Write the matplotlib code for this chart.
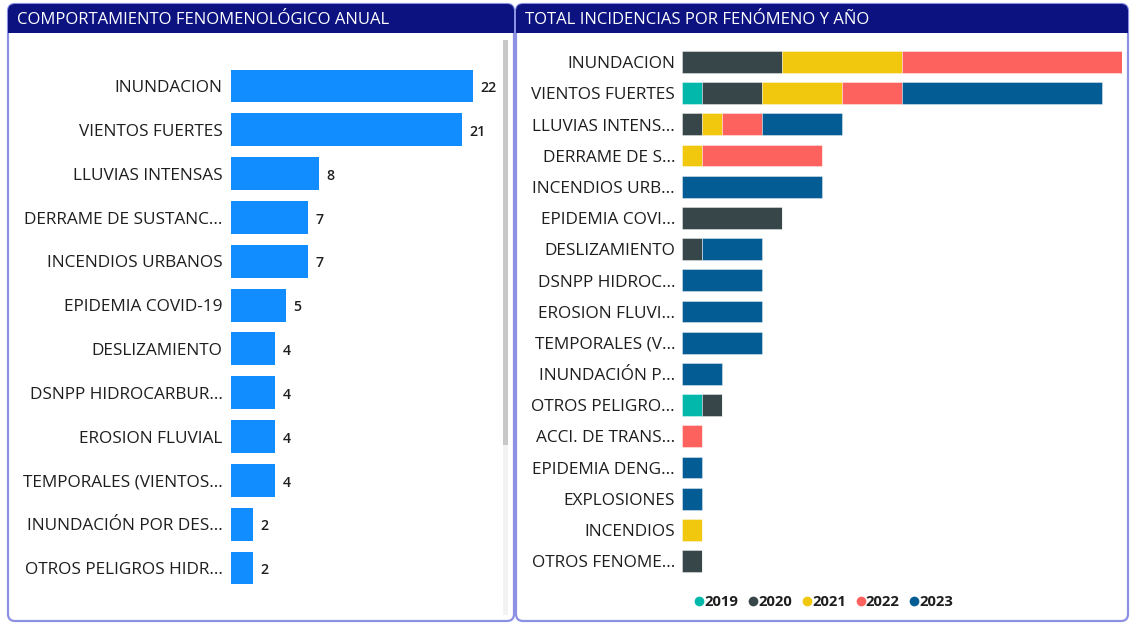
import matplotlib
matplotlib.use("Agg")
import matplotlib.pyplot as plt
from matplotlib.patches import FancyBboxPatch, Rectangle
from matplotlib.lines import Line2D
import numpy as np

plt.rcParams['font.family'] = ['Open Sans', 'DejaVu Sans']

# ---- data -------------------------------------------------------------
left_title = "COMPORTAMIENTO FENOMENOLÓGICO ANUAL"
left_categories = [
    "INUNDACION", "VIENTOS FUERTES", "LLUVIAS INTENSAS", "DERRAME DE SUSTANC...",
    "INCENDIOS URBANOS", "EPIDEMIA COVID-19", "DESLIZAMIENTO", "DSNPP HIDROCARBUR...",
    "EROSION FLUVIAL", "TEMPORALES (VIENTOS...", "INUNDACIÓN POR DES...",
    "OTROS PELIGROS HIDR...",
]
left_values = [22, 21, 8, 7, 7, 5, 4, 4, 4, 4, 2, 2]

right_title = "TOTAL INCIDENCIAS POR FENÓMENO Y AÑO"
right_categories = [
    "INUNDACION", "VIENTOS FUERTES", "LLUVIAS INTENS...", "DERRAME DE S...",
    "INCENDIOS URB...", "EPIDEMIA COVI...", "DESLIZAMIENTO", "DSNPP HIDROC...",
    "EROSION FLUVI...", "TEMPORALES (V...", "INUNDACIÓN P...", "OTROS PELIGRO...",
    "ACCI. DE TRANS...", "EPIDEMIA DENG...", "EXPLOSIONES", "INCENDIOS",
    "OTROS FENOME...",
]
years = ["2019", "2020", "2021", "2022", "2023"]
y2019 = [0, 1, 0, 0, 0, 0, 0, 0, 0, 0, 0, 1, 0, 0, 0, 0, 0]
y2020 = [5, 3, 1, 0, 0, 5, 1, 0, 0, 0, 0, 1, 0, 0, 0, 0, 1]
y2021 = [6, 4, 1, 1, 0, 0, 0, 0, 0, 0, 0, 0, 0, 0, 0, 1, 0]
y2022 = [11, 3, 2, 6, 0, 0, 0, 0, 0, 0, 0, 0, 1, 0, 0, 0, 0]
y2023 = [0, 10, 4, 0, 7, 0, 3, 4, 4, 4, 2, 0, 0, 1, 1, 0, 0]
year_colors = ["#01B8AA", "#374649", "#F2C80F", "#FD625E", "#035C93"]

# ---- styles -----------------------------------------------------------
W, H = 1130, 624
NAVY = "#0C1380"
BORDER = "#8C91E3"
BAR_BLUE = "#118DFF"
TEXT = "#1E1E1E"
LABEL_SIZE = 12.4
TEXT_DY = -1.6  # small downward nudge so capitals sit centred on the bars

fig = plt.figure(figsize=(W / 100, H / 100), dpi=100)
fig.patch.set_facecolor("white")

# background layer in pixel coordinates for the card frames
bg = fig.add_axes([0, 0, 1, 1], zorder=0)
bg.set_xlim(0, W)
bg.set_ylim(H, 0)
bg.axis("off")


def card(x0, y0, x1, y1, title):
    bg.add_patch(FancyBboxPatch((x0, y0), x1 - x0, y1 - y0,
                                boxstyle="round,pad=0,rounding_size=7",
                                fc="white", ec=BORDER, lw=1.6))
    # header band: rounded on top, square at the bottom
    bg.add_patch(FancyBboxPatch((x0, y0), x1 - x0, 26,
                                boxstyle="round,pad=0,rounding_size=7",
                                fc=NAVY, ec="none"))
    bg.add_patch(Rectangle((x0, y0 + 14), x1 - x0, 15, fc=NAVY, ec="none"))
    bg.text(x0 + 9, y0 + 16.5, title, color="white", fontsize=12.0,
            va="center", ha="left")


card(8, 4, 514, 621, left_title)
card(516, 4, 1128, 621, right_title)

# scrollbar of the left card
bg.add_patch(Rectangle((503, 40), 5, 575, fc="#F3F3F3", ec="none"))
bg.add_patch(Rectangle((503, 40), 5, 405, fc="#C8C8C8", ec="none"))


def px_axes(x0, y0, x1, y1):
    ax = fig.add_axes([x0 / W, 1 - y1 / H, (x1 - x0) / W, (y1 - y0) / H], zorder=2)
    ax.patch.set_alpha(0)
    for s in ax.spines.values():
        s.set_visible(False)
    ax.set_xticks([])
    ax.set_yticks([])
    return ax


# ---- left chart -------------------------------------------------------
axL = px_axes(231, 64.1, 231 + 11 * 24, 589.9)
nL = len(left_categories)
posL = np.arange(nL)
axL.barh(posL, left_values, height=0.75, color=BAR_BLUE)
axL.set_xlim(0, 24)
axL.set_ylim(nL - 0.5, -0.5)
for p, lab, v in zip(posL, left_categories, left_values):
    axL.annotate(lab, (0, p), xytext=(-6, TEXT_DY), textcoords="offset points",
                 ha="right", va="center", fontsize=LABEL_SIZE, color=TEXT,
                 annotation_clip=False)
    axL.annotate(str(v), (v, p), xytext=(5.5, TEXT_DY), textcoords="offset points",
                 ha="left", va="center", fontsize=10.2, color=TEXT,
                 fontweight="semibold", annotation_clip=False)

# ---- right chart ------------------------------------------------------
axR = px_axes(682, 46.4, 682 + 20 * 22, 576.6)
nR = len(right_categories)
posR = np.arange(nR)
left_edge = np.zeros(nR)
for yr, vals, col in zip(years, [y2019, y2020, y2021, y2022, y2023], year_colors):
    vals = np.array(vals, dtype=float)
    axR.barh(posR, vals, left=left_edge, height=0.7, color=col,
             edgecolor=(1, 1, 1, 0.45), linewidth=0.6)
    left_edge += vals
axR.set_xlim(0, 22)
axR.set_ylim(nR - 0.5, -0.5)
for p, lab in zip(posR, right_categories):
    axR.annotate(lab, (0, p), xytext=(-5, TEXT_DY), textcoords="offset points",
                 ha="right", va="center", fontsize=LABEL_SIZE, color=TEXT,
                 annotation_clip=False)

# legend below the stacked chart
handles = [Line2D([], [], marker="o", linestyle="none", markersize=7,
                  markerfacecolor=c, markeredgecolor="none") for c in year_colors]
leg = fig.legend(handles, years, loc="center", bbox_to_anchor=(822 / W, 1 - 602 / H),
                 ncol=5, frameon=False, handletextpad=-0.25, columnspacing=0.4,
                 prop={"size": 10.6, "weight": "bold"}, handlelength=1.2)
for t in leg.get_texts():
    t.set_color(TEXT)

fig.savefig("out.png", dpi=100, facecolor="white")
